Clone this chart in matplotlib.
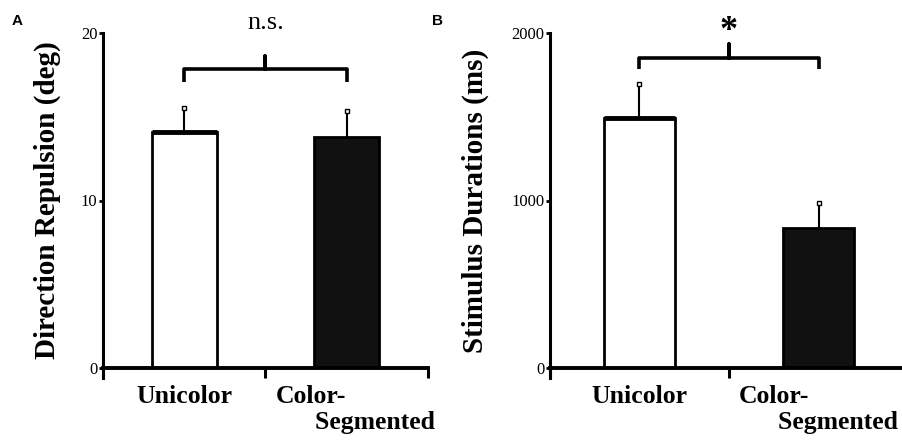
import numpy as np
import matplotlib.pyplot as plt

plt.rcParams['font.family'] = ['Liberation Serif', 'DejaVu Serif']

# === Data ===
conditions = ["Unicolor", "Color-\n      Segmented"]
bar_colors = ["white", "#111111"]

repulsion_mean = [14.1, 13.8]      # deg
repulsion_err = [1.4, 1.55]
duration_mean = [1490, 836]        # ms
duration_err = [205, 150]

repulsion_ticks = [0, 10, 20]
duration_ticks = [0, 1000, 2000]

fig = plt.figure(figsize=(9.03, 4.41), dpi=100)
W, H = 903, 441


def px_axes(left, right, top, bottom):
    return fig.add_axes([left / W, (H - bottom) / H, (right - left) / W, (bottom - top) / H])


def draw_panel(ax, means, errs, yticks, ylabel, bracket, mark, mark_kw,
               label_shift=0.0, labelpad=4):
    pos = np.arange(len(means)) + 0.5
    ax.bar(pos, means, width=0.4, color=bar_colors, edgecolor="black", linewidth=2, zorder=2)
    # the open bar has a heavier top edge in the original
    ax.plot([pos[0] - 0.2, pos[0] + 0.2], [means[0], means[0]], color="black", lw=3.5,
            solid_capstyle="butt", zorder=3)
    for x, m, e in zip(pos, means, errs):
        ax.plot([x, x], [m, m + e], color="black", lw=1.5, zorder=1)
        ax.plot(x, m + e, marker="s", ms=3.5, mfc="white", mec="black", mew=1, zorder=3)
    ax.set_xlim(0, 2)
    ax.set_ylim(yticks[0], yticks[-1])
    ax.set_yticks(yticks)
    ax.set_yticklabels([str(t) for t in yticks], fontsize=12)
    ax.tick_params(axis="y", direction="out", length=3, width=2, pad=1)

    # boundaries get the tick marks, labels sit under bar centres
    ax.set_xticks([0, 1, 2])
    ax.set_xticklabels([])
    ax.tick_params(axis="x", which="major", direction="out", length=7.5, width=2.2)
    ax.set_xticks([pos[0], pos[1] + label_shift], minor=True)
    ax.set_xticklabels(conditions, minor=True, fontsize=18.5, fontweight="bold",
                       multialignment="left")
    ax.tick_params(axis="x", which="minor", length=0, pad=12)

    for s in ["top", "right"]:
        ax.spines[s].set_visible(False)
    ax.spines["left"].set_linewidth(2.2)
    ax.spines["bottom"].set_linewidth(2.8)
    ax.spines["left"].set_bounds(yticks[0] - (yticks[-1] - yticks[0]) * 0.03, yticks[-1])

    ax.set_ylabel(ylabel, fontsize=21, fontweight="bold", labelpad=labelpad)

    # significance bracket
    top, end, tip = bracket
    xs = [pos[0], pos[0], 1, 1, 1, pos[1], pos[1]]
    ys = [end, top, top, tip, top, top, end]
    ax.plot(xs, ys, color="black", lw=2.6, solid_joinstyle="round",
            solid_capstyle="butt", clip_on=False)
    ax.text(1, mark[0], mark[1], ha="center", va="center", clip_on=False, **mark_kw)


axA = px_axes(103, 428, 33, 368)
draw_panel(axA, repulsion_mean, repulsion_err, repulsion_ticks,
           "Direction Repulsion (deg)", (17.85, 17.1, 18.6),
           (20.6, "n.s."), dict(fontsize=19), label_shift=0.055, labelpad=14)

axB = px_axes(550, 908, 33, 368)
draw_panel(axB, duration_mean, duration_err, duration_ticks,
           "Stimulus Durations (ms)", (1851, 1785, 1934),
           (2010, "*"), dict(fontsize=26, fontweight="bold"), labelpad=16)

fig.text(12 / W, 1 - 21 / H, "A", fontsize=11, fontweight="bold", family="Liberation Sans",
         va="center")
fig.text(432 / W, 1 - 21 / H, "B", fontsize=11, fontweight="bold", family="Liberation Sans",
         va="center")

fig.savefig("out.png", dpi=100)
